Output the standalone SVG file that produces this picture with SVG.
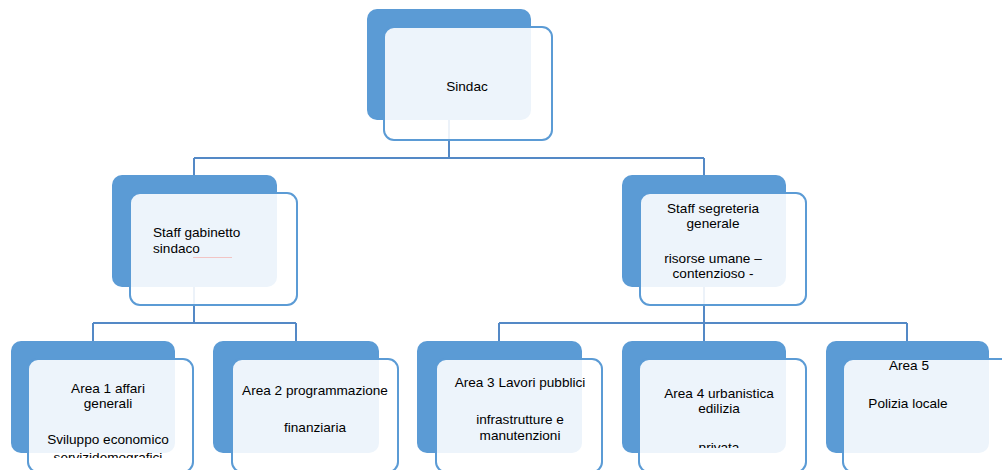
<svg xmlns="http://www.w3.org/2000/svg" width="1002" height="470" viewBox="0 0 1002 470">
<style>
.dark{fill:#5B9BD5;}
.light{fill:#ffffff;fill-opacity:0.89;stroke:#5B9BD5;stroke-width:2;}
.conn{fill:none;stroke:#5489C6;stroke-width:2;}
text{font-family:"Liberation Sans",Arial,sans-serif;font-size:13.6px;fill:#000;}
.c{text-anchor:middle;}
</style>
<defs>
<clipPath id="clip1"><rect x="0" y="340" width="220" height="118"/></clipPath>
<clipPath id="clip4"><rect x="620" y="340" width="200" height="108"/></clipPath>
</defs>
<rect width="1002" height="470" fill="#ffffff"/>
<g id="connectors">
<path class="conn" d="M449 120 V158 M194 158 H704 M194 158 V175 M704 158 V175"/>
<path class="conn" d="M194 287 V323 M93 323 H296 M93 323 V341 M296 323 V341"/>
<path class="conn" d="M704 287 V323 M499 323 H907 M499 323 V341 M704 323 V341 M907 323 V341"/>
</g>
<g id="sindac">
<rect class="dark" x="367" y="9" width="164" height="111" rx="10"/>
<rect class="light" x="384" y="27" width="168" height="113" rx="10"/>
<text class="c" x="467" y="91">Sindac</text>
</g>
<g id="staff-gabinetto">
<rect class="dark" x="112" y="175" width="165" height="112" rx="10"/>
<rect class="light" x="130" y="193" width="167" height="112" rx="10"/>
<text x="153" y="237">Staff gabinetto</text>
<text x="153" y="253">sindaco</text>
<line x1="193" y1="257.5" x2="232" y2="257.5" stroke="#f2c4c4" stroke-width="1"/>
</g>
<g id="staff-segreteria">
<rect class="dark" x="622" y="175" width="164" height="112" rx="10"/>
<rect class="light" x="640" y="193" width="166" height="112" rx="10"/>
<text class="c" x="713" y="213">Staff segreteria</text>
<text class="c" x="713" y="228">generale</text>
<text class="c" x="713" y="263">risorse umane –</text>
<text class="c" x="713" y="278">contenzioso -</text>
</g>
<g id="area1">
<rect class="dark" x="11" y="341" width="164" height="112" rx="10"/>
<rect class="light" x="28" y="359" width="165" height="113" rx="10"/>
<g clip-path="url(#clip1)">
<text class="c" x="108" y="393">Area 1 affari</text>
<text class="c" x="108" y="408">generali</text>
<text class="c" x="108" y="444">Sviluppo economico</text>
<text class="c" x="108" y="462">servizidemografici</text>
</g>
</g>
<g id="area2">
<rect class="dark" x="213" y="341" width="166" height="112" rx="10"/>
<rect class="light" x="232" y="359" width="166" height="113" rx="10"/>
<text class="c" x="315" y="395">Area 2 programmazione</text>
<text class="c" x="315" y="432">finanziaria</text>
</g>
<g id="area3">
<rect class="dark" x="417" y="341" width="165" height="112" rx="10"/>
<rect class="light" x="436" y="359" width="166" height="113" rx="10"/>
<text class="c" x="520" y="387">Area 3 Lavori pubblici</text>
<text class="c" x="520" y="424">infrastrutture e</text>
<text class="c" x="520" y="440">manutenzioni</text>
</g>
<g id="area4">
<rect class="dark" x="622" y="341" width="164" height="112" rx="10"/>
<rect class="light" x="639" y="359" width="167" height="113" rx="10"/>
<g clip-path="url(#clip4)">
<text class="c" x="719" y="398">Area 4 urbanistica</text>
<text class="c" x="719" y="413">edilizia</text>
<text class="c" x="719" y="452">privata</text>
</g>
</g>
<g id="area5">
<rect class="dark" x="826" y="341" width="163" height="112" rx="10"/>
<rect class="light" x="843" y="359" width="168" height="113" rx="10"/>
<text class="c" x="909" y="370">Area 5</text>
<text class="c" x="908" y="408">Polizia locale</text>
</g>
</svg>
